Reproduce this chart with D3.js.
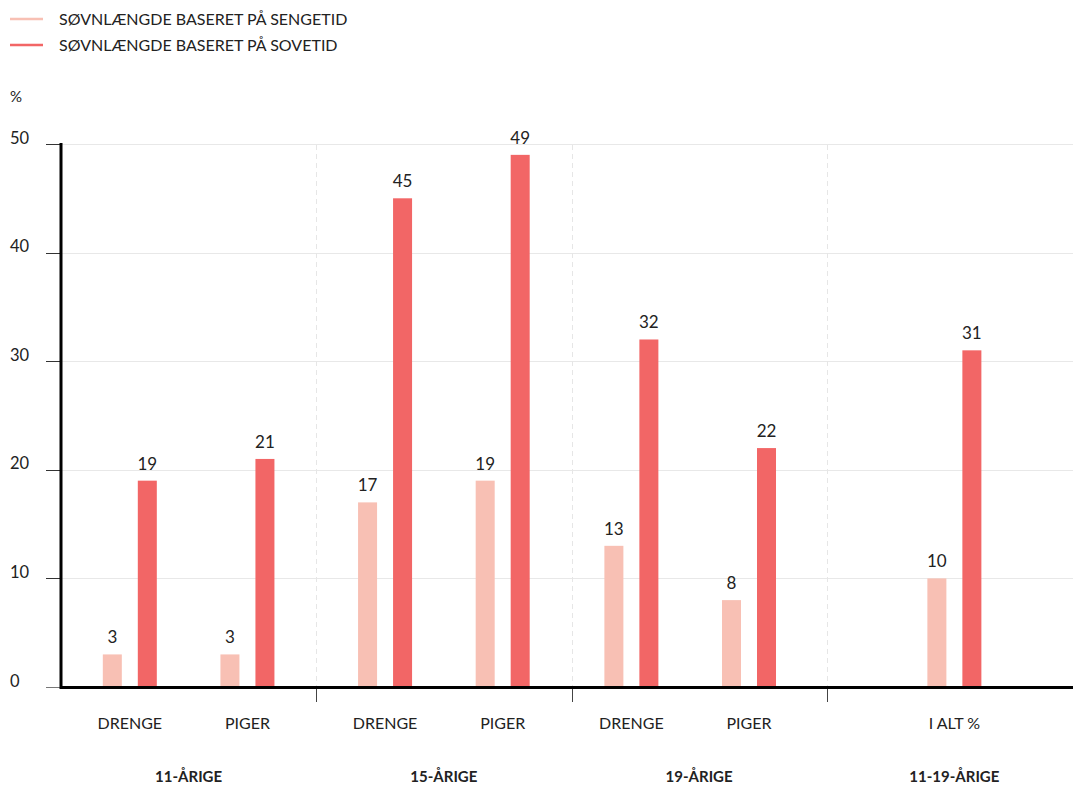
<!DOCTYPE html>
<html><head><meta charset="utf-8">
<script src="https://cdn.jsdelivr.net/npm/d3@7"></script>
<style>
html,body{margin:0;padding:0;background:#fff;}
text{font-family:Lato,"Open Sans",sans-serif;fill:#222;}
</style></head>
<body><svg id="c" width="1073" height="785"></svg>
<script>
const groups = ["11-ÅRIGE","15-ÅRIGE","19-ÅRIGE","11-19-ÅRIGE"];
const subgroups = [["DRENGE","PIGER"],["DRENGE","PIGER"],["DRENGE","PIGER"],["I ALT %"]];
const seriesNames = ["SØVNLÆNGDE BASERET PÅ SENGETID","SØVNLÆNGDE BASERET PÅ SOVETID"];
const sengetid = [[3,3],[17,19],[13,8],[10]];
const sovetid = [[19,21],[45,49],[32,22],[31]];
const yTicks = [0,10,20,30,40,50];
const colors = ["#f8c0b4","#f26666"];

// layout: inner point-scale range per group (fraction of group width)
const innerRange = [[0,1],[0,1],[-0.035,0.965],[0,1]];

const svg = d3.select("#c");
const y = d3.scaleLinear().domain([0,50]).range([687,144]);
const x0 = d3.scaleBand().domain(groups).range([61,1082]).padding(0);
const xs = d3.scaleBand().domain([0,1]).range([-27,27]).paddingInner(0.457).paddingOuter(0);

// gridlines
svg.append("g").selectAll("line").data(yTicks.filter(d=>d>0)).join("line")
  .attr("x1",61).attr("x2",1073).attr("y1",d=>Math.round(y(d))+0.5).attr("y2",d=>Math.round(y(d))+0.5)
  .attr("stroke","#e8e8e8").attr("stroke-width",1);
// tick marks left of axis
svg.append("g").selectAll("line").data(yTicks).join("line")
  .attr("x1",46).attr("x2",61).attr("y1",d=>Math.round(y(d))+0.5).attr("y2",d=>Math.round(y(d))+0.5)
  .attr("stroke",d=>d===0?"#777":"#333").attr("stroke-width",1);
// y labels
svg.append("g").selectAll("text").data(yTicks).join("text")
  .attr("x",10).attr("y",d=>y(d)-0.5).attr("font-size",16.5).text(d=>d);
svg.append("text").attr("x",10).attr("y",102).attr("font-size",15).text("%");

// separators
const seps = groups.slice(1).map(g=>x0(g));
svg.append("g").selectAll("line").data(seps).join("line")
  .attr("x1",d=>Math.round(d)+0.5).attr("x2",d=>Math.round(d)+0.5).attr("y1",145).attr("y2",686)
  .attr("stroke","#e6e6e6").attr("stroke-width",1).attr("stroke-dasharray","5,4");
svg.append("g").selectAll("line").data(seps).join("line")
  .attr("x1",d=>Math.round(d)+0.5).attr("x2",d=>Math.round(d)+0.5).attr("y1",688).attr("y2",702)
  .attr("stroke","#444").attr("stroke-width",1);

// bars
groups.forEach((g,gi)=>{
  const bw = x0.bandwidth();
  const xi = d3.scalePoint().domain(subgroups[gi]).range([innerRange[gi][0]*bw, innerRange[gi][1]*bw]).padding(0.585);
  subgroups[gi].forEach((s,si)=>{
    const cx = x0(g)+xi(s);
    const vals = [sengetid[gi][si], sovetid[gi][si]];
    vals.forEach((v,k)=>{
      const bx = cx+xs(k);
      svg.append("rect").attr("x",bx).attr("y",y(v)).attr("width",xs.bandwidth()).attr("height",y(0)-y(v)).attr("fill",colors[k]);
      svg.append("text").attr("x",bx+xs.bandwidth()/2).attr("y",y(v)-11).attr("text-anchor","middle").attr("font-size",17).text(v);
    });
    svg.append("text").attr("x",cx).attr("y",729).attr("text-anchor","middle").attr("font-size",16).text(s);
  });
  svg.append("text").attr("x",x0(g)+bw/2).attr("y",781.5).attr("text-anchor","middle").attr("font-size",15).attr("font-weight","bold").text(g);
});

// axes
svg.append("line").attr("x1",61).attr("x2",61).attr("y1",143).attr("y2",689).attr("stroke","#000").attr("stroke-width",3);
svg.append("line").attr("x1",60).attr("x2",1073).attr("y1",687.5).attr("y2",687.5).attr("stroke","#000").attr("stroke-width",3);

// legend
seriesNames.forEach((n,i)=>{
  const ly = 19+i*26;
  svg.append("line").attr("x1",10).attr("x2",43).attr("y1",ly).attr("y2",ly).attr("stroke",colors[i]).attr("stroke-width",2.5);
  svg.append("text").attr("x",59).attr("y",ly+5.5).attr("font-size",16).text(n);
});
</script></body></html>
